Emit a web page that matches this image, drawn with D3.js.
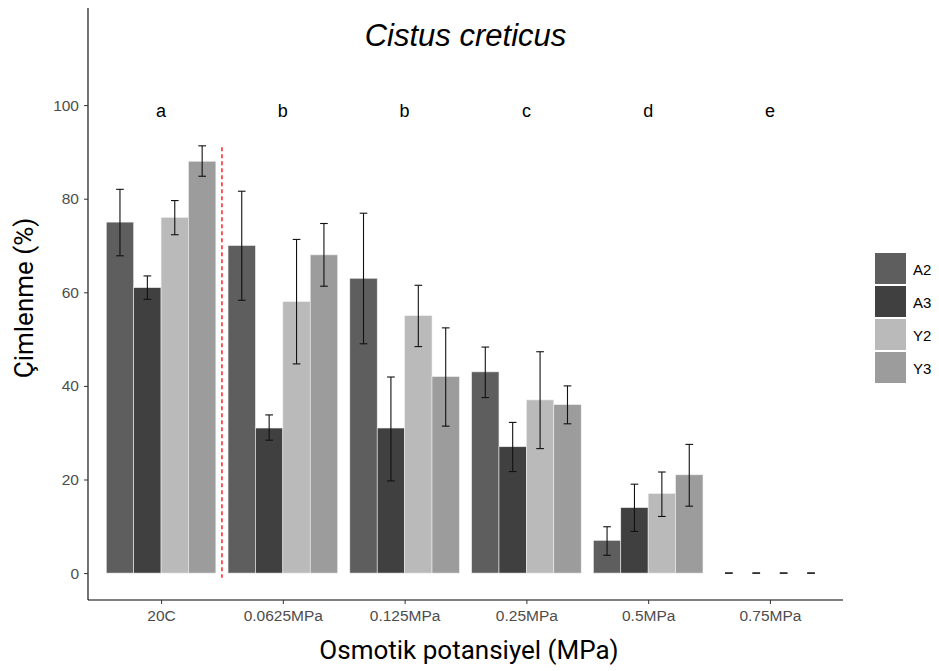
<!DOCTYPE html>
<html><head><meta charset="utf-8">
<script src="https://cdn.jsdelivr.net/npm/d3@7"></script>
<style>body{margin:0;background:#fff}</style>
</head><body>
<svg id="chart" width="939" height="671"></svg>
<script>
const categories = ["20C","0.0625MPa","0.125MPa","0.25MPa","0.5MPa","0.75MPa"];
const series = ["A2","A3","Y2","Y3"];
const colors = ["#5e5e5e","#404040","#bababa","#9c9c9c"];
const valA2 = [75, 70, 63, 43, 7, 0];
const valA3 = [61, 31, 31, 27, 14, 0];
const valY2 = [76, 58, 55, 37, 17, 0];
const valY3 = [88, 68, 42, 36, 21, 0];
const lowA2 = [67.8, 58.3, 49, 37.5, 3.8, 0];
const highA2 = [82, 81.6, 76.9, 48.3, 9.9, 0];
const lowA3 = [58.5, 28.4, 19.7, 21.7, 8.9, 0];
const highA3 = [63.5, 33.8, 41.9, 32.2, 19, 0];
const lowY2 = [72.3, 44.7, 48.4, 26.6, 12.1, 0];
const highY2 = [79.6, 71.3, 61.5, 47.3, 21.6, 0];
const lowY3 = [84.8, 61.3, 31.4, 31.9, 14.3, 0];
const highY3 = [91.3, 74.7, 52.4, 40, 27.5, 0];
const letters = ["a","b","b","c","d","e"];
const yTicks = [0,20,40,60,80,100];
const titleText = "Cistus creticus";
const xTitle = "Osmotik potansiyel (MPa)";
const yTitle = "Çimlenme (%)";

const values = [valA2, valA3, valY2, valY3];
const lows = [lowA2, lowA3, lowY2, lowY3];
const highs = [highA2, highA3, highY2, highY3];

const svg = d3.select("#chart");
const L = 88, R = 843, T = 8, B = 600;
const SANS = "'Liberation Sans', Arial, sans-serif";

const xPos = d3.scaleLinear().domain([0.4, 6.6]).range([L, R]);
const y = d3.scaleLinear().domain([-5.75, 120.75]).range([B, T]);
const step = xPos(2) - xPos(1);
const groupW = step * 0.9;
const barW = groupW / 4;

const data = [];
categories.forEach((c, i) => {
  series.forEach((s, j) => {
    data.push({cat: c, ci: i, si: j, v: values[j][i], lo: lows[j][i], hi: highs[j][i]});
  });
});
const bx = d => xPos(d.ci + 1) - groupW / 2 + d.si * barW;

// bars
svg.append("g").selectAll("rect").data(data.filter(d => d.v > 0)).join("rect")
  .attr("x", bx).attr("width", barW)
  .attr("y", d => y(d.v)).attr("height", d => y(0) - y(d.v))
  .attr("fill", d => colors[d.si])
  .attr("stroke", "#eeeeee").attr("stroke-width", 0.6);

// error bars
const capW = barW * 0.28;
const eg = svg.append("g").attr("stroke", "#111").attr("stroke-width", 1.1);
data.forEach(d => {
  const cx = bx(d) + barW / 2;
  if (d.hi > d.lo) {
    eg.append("line").attr("x1", cx).attr("x2", cx).attr("y1", y(d.hi)).attr("y2", y(d.lo));
  }
  eg.append("line").attr("x1", cx - capW / 2).attr("x2", cx + capW / 2).attr("y1", y(d.hi)).attr("y2", y(d.hi));
  eg.append("line").attr("x1", cx - capW / 2).attr("x2", cx + capW / 2).attr("y1", y(d.lo)).attr("y2", y(d.lo));
});

// red dashed separator
svg.append("line")
  .attr("x1", xPos(1.5)).attr("x2", xPos(1.5))
  .attr("y1", y(91)).attr("y2", y(-1))
  .attr("stroke", "#ff0000").attr("stroke-width", 1.3).attr("stroke-dasharray", "4,3");

// letters
svg.append("g").selectAll("text").data(letters).join("text")
  .attr("x", (d, i) => xPos(i + 1)).attr("y", 117)
  .attr("text-anchor", "middle")
  .attr("font-family", SANS).attr("font-size", 18)
  .attr("fill", "#000").text(d => d);

// title
svg.append("text").attr("x", xPos(3.5)).attr("y", 46)
  .attr("text-anchor", "middle")
  .attr("font-family", SANS).attr("font-size", 31)
  .attr("font-style", "italic").attr("fill", "#000").text(titleText);

// axes
const yAxis = d3.axisLeft(y).tickValues(yTicks).tickSize(4).tickPadding(5);
const gy = svg.append("g").attr("transform", `translate(${L},0)`).call(yAxis);
gy.select(".domain").attr("d", `M0,${T}V${B}`).attr("stroke", "#000").attr("stroke-width", 1.1);
gy.selectAll(".tick line").attr("stroke", "#333");
gy.selectAll(".tick text").attr("font-family", SANS).attr("font-size", 15.5).attr("fill", "#4d4d4d");

const xAxis = d3.axisBottom(xPos).tickValues(categories.map((c, i) => i + 1)).tickFormat((d) => categories[d - 1]).tickSize(4).tickPadding(6);
const gx = svg.append("g").attr("transform", `translate(0,${B})`).call(xAxis);
gx.select(".domain").attr("d", `M${L},0H${R}`).attr("stroke", "#000").attr("stroke-width", 1.1);
gx.selectAll(".tick line").attr("stroke", "#333");
gx.selectAll(".tick text").attr("font-family", SANS).attr("font-size", 15.5).attr("fill", "#4d4d4d");

// axis titles
svg.append("text").attr("x", 469).attr("y", 659)
  .attr("text-anchor", "middle")
  .attr("font-family", "Roboto, sans-serif").attr("font-size", 26).attr("fill", "#000").text(xTitle);
svg.append("text").attr("transform", `translate(33,298) rotate(-90)`)
  .attr("text-anchor", "middle")
  .attr("font-family", "Roboto, sans-serif").attr("font-size", 26).attr("fill", "#000").text(yTitle);

// legend
const lg = svg.append("g").attr("transform", "translate(875,253)");
series.forEach((s, j) => {
  lg.append("rect").attr("x", 0).attr("y", j * 33).attr("width", 31).attr("height", 31).attr("fill", colors[j]);
  lg.append("text").attr("x", 38).attr("y", j * 33 + 16).attr("dominant-baseline", "central")
    .attr("font-family", SANS).attr("font-size", 15).attr("fill", "#000").text(s);
});
</script>
</body></html>
